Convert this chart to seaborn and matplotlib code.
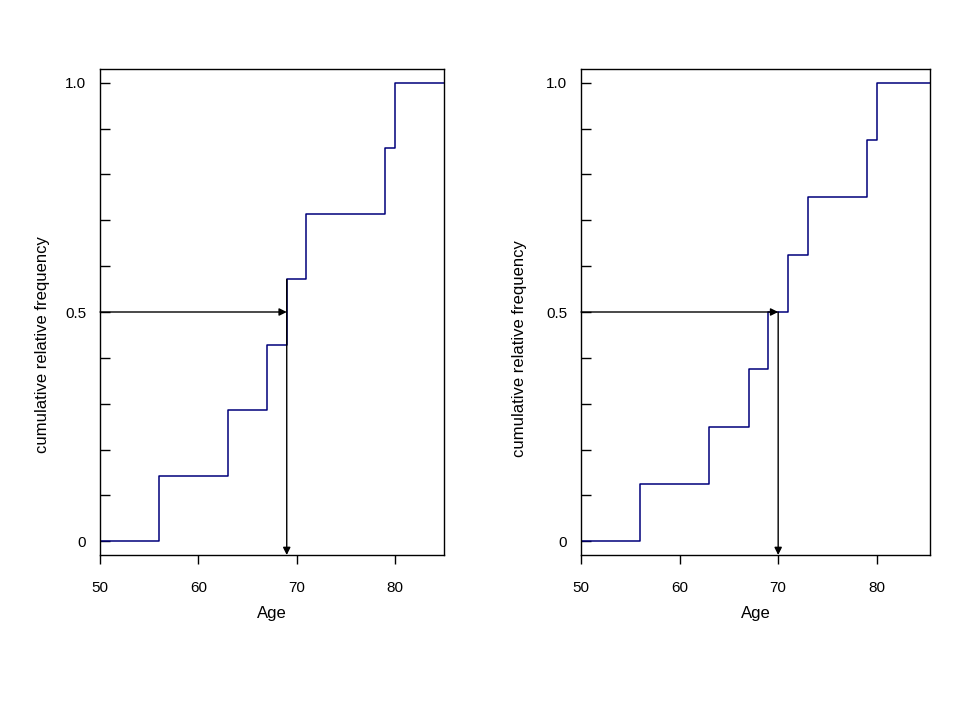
import matplotlib
matplotlib.use("Agg")
import matplotlib.pyplot as plt
import seaborn as sns
import pandas as pd
from matplotlib.ticker import MultipleLocator, FixedLocator

# ---- data ----
age_left = [50, 56, 63, 67, 69, 71, 79, 80, 85]
cum_left = [0.0, 0.143, 0.286, 0.429, 0.571, 0.714, 0.857, 1.0, 1.0]

age_right = [50, 56, 63, 67, 69, 71, 73, 79, 80, 86]
cum_right = [0.0, 0.125, 0.25, 0.375, 0.5, 0.625, 0.75, 0.875, 1.0, 1.0]

medians = [69, 70]
median_tops = [0.571, 0.5]
half = 0.5

y_major = [0, 0.5, 1.0]
y_major_labels = ["0", "0.5", "1.0"]
x_ticks = [50, 60, 70, 80]
x_tick_labels = ["50", "60", "70", "80"]

xlabel = "Age"
ylabel = "cumulative relative frequency"

# ---- style ----
sns.set_theme(style="ticks")
plt.rcParams["font.family"] = ["Liberation Sans", "DejaVu Sans"]

NAVY = "#00007a"

fig = plt.figure(figsize=(9.6, 7.2), dpi=100)
W, H = 960, 720
positions = [
    (100 / W, (H - 555) / H, 344 / W, 486 / H),
    (581 / W, (H - 555) / H, 349 / W, 486 / H),
]
xlims = [(50, 85), (50, 85.4)]
ylabel_coords = [(-0.145, 0.434), (-0.155, 0.424)]

panels = [(age_left, cum_left), (age_right, cum_right)]

for i, ((ages, cums), pos) in enumerate(zip(panels, positions)):
    ax = fig.add_axes(pos)
    df = pd.DataFrame({"age": ages, "cum": cums})
    sns.lineplot(data=df, x="age", y="cum", drawstyle="steps-post",
                 color=NAVY, lw=1.1, estimator=None, sort=False, ax=ax)

    ax.set_xlim(*xlims[i])
    ax.set_ylim(-0.03, 1.03)

    m = medians[i]
    arrow = dict(arrowstyle="-|>", color="black", lw=1.0,
                 mutation_scale=11, shrinkA=0, shrinkB=0)
    ax.annotate("", xy=(m, half), xytext=(xlims[i][0], half),
                arrowprops=arrow, annotation_clip=False)
    ax.annotate("", xy=(m, -0.03), xytext=(m, median_tops[i]),
                arrowprops=arrow, annotation_clip=False)

    for s in ax.spines.values():
        s.set_visible(True)
        s.set_color("black")
        s.set_linewidth(1.0)

    ax.yaxis.set_major_locator(FixedLocator(y_major))
    ax.set_yticklabels(y_major_labels)
    ax.yaxis.set_minor_locator(MultipleLocator(0.1))
    ax.tick_params(axis="y", which="both", direction="in", length=7.5,
                   width=1.0, color="black", pad=10, labelsize=11,
                   labelcolor="black")

    ax.set_xticks(x_ticks)
    ax.set_xticklabels(x_tick_labels)
    ax.tick_params(axis="x", which="both", direction="out", length=6.5,
                   width=1.0, color="black", pad=12, labelsize=11,
                   labelcolor="black")

    ax.set_xlabel(xlabel, fontsize=12, color="black", labelpad=8)
    ax.set_ylabel(ylabel, fontsize=12, color="black")
    ax.yaxis.set_label_coords(*ylabel_coords[i])
    ax.grid(False)

fig.savefig("out.png", dpi=100, facecolor="white")
